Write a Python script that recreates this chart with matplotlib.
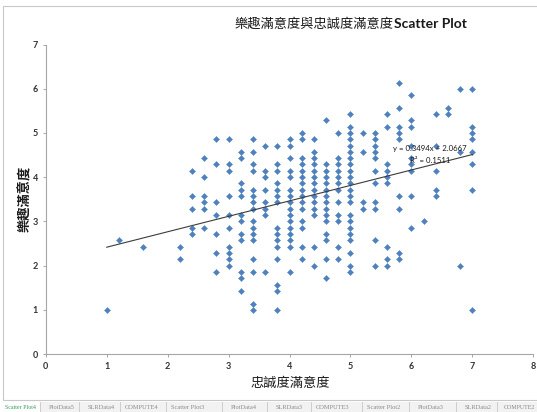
import matplotlib
matplotlib.use("Agg")
import matplotlib.pyplot as plt
from matplotlib.patches import Rectangle
import numpy as np

# Loyalty satisfaction levels (x) and the enjoyment satisfaction scores observed at each level (y)
x_levels = [1.0, 1.2, 1.6, 2.2, 2.4, 2.6, 2.8, 3.0, 3.2, 3.4, 3.6, 3.8, 4.0, 4.2,
            4.4, 4.6, 4.8, 5.0, 5.2, 5.4, 5.6, 5.8, 6.0, 6.2, 6.4, 6.6, 6.8, 7.0]
y_at_level = [
    [1.00],
    [2.57],
    [2.43],
    [2.43, 2.14],
    [4.14, 3.57, 3.29, 2.86, 2.71],
    [4.43, 4.00, 3.57, 3.43, 3.29, 2.86],
    [4.86, 4.29, 3.43, 3.14, 2.71, 2.29, 1.86],
    [4.86, 4.29, 4.14, 3.57, 3.14, 2.86, 2.43, 2.29, 2.14, 2.00],
    [4.57, 4.43, 3.86, 3.71, 3.57, 3.14, 3.00, 2.71, 2.57, 1.86, 1.71, 1.43],
    [4.86, 4.57, 4.29, 4.14, 3.71, 3.57, 3.43, 3.29, 3.00, 2.86, 2.71, 2.57, 2.14, 1.86, 1.14, 1.00],
    [4.71, 4.14, 4.00, 3.71, 3.43, 3.29, 3.14, 1.86],
    [4.71, 4.29, 4.14, 3.86, 3.71, 3.57, 3.43, 2.86, 2.71, 2.57, 2.43, 2.14, 1.57, 1.43, 1.00],
    [4.86, 4.71, 4.43, 4.14, 4.00, 3.71, 3.57, 3.43, 3.29, 3.14, 3.00, 2.86, 2.71, 2.57, 2.43, 1.86],
    [5.00, 4.86, 4.43, 4.29, 4.14, 4.00, 3.86, 3.71, 3.57, 3.43, 3.29, 3.00, 2.86, 2.43, 2.14],
    [4.86, 4.57, 4.43, 4.29, 4.14, 4.00, 3.86, 3.71, 3.57, 3.43, 3.29, 3.14, 2.43, 2.00],
    [5.29, 4.29, 4.14, 4.00, 3.86, 3.71, 3.57, 3.43, 3.29, 3.14, 3.00, 2.71, 2.57, 2.14, 1.71],
    [5.00, 4.43, 4.29, 4.14, 4.00, 3.86, 3.71, 3.43, 3.14, 3.00, 2.43, 2.14],
    [5.43, 5.14, 5.00, 4.86, 4.71, 4.57, 4.43, 4.29, 4.14, 4.00, 3.86, 3.71, 3.57, 3.43,
     3.14, 3.00, 2.86, 2.71, 2.57, 2.29, 2.00, 1.86],
    [5.00, 4.57, 3.43, 3.29],
    [5.00, 4.86, 4.71, 4.57, 4.43, 4.14, 3.86, 3.43, 3.29, 2.57, 2.00],
    [5.43, 5.14, 4.29, 4.14, 4.00, 3.86, 2.43, 2.14, 2.00],
    [6.14, 5.57, 5.14, 5.00, 4.86, 3.57, 3.29, 2.29, 2.14],
    [5.86, 5.29, 5.14, 4.71, 4.43, 4.29, 4.14, 3.57, 2.86],
    [3.00],
    [5.43, 4.71, 4.14, 3.71, 3.57],
    [5.57, 5.43],
    [6.00, 4.57, 2.00],
    [6.00, 5.14, 5.00, 4.86, 4.57, 4.29, 3.71, 1.00],
]

# Linear trendline reported on the chart
slope = 0.3494
intercept = 2.0667
r_squared = 0.1511

x_ticks = [0, 1, 2, 3, 4, 5, 6, 7, 8]
y_ticks = [0, 1, 2, 3, 4, 5, 6, 7]

title_cjk = "樂趣滿意度與忠誠度滿意度"
title_latin = "Scatter Plot"
x_label = "忠誠度滿意度"
y_label = "樂趣滿意度"

sheet_tabs = ["Scatter Plot4", "PlotData5", "SLRData4", "COMPUTE4", "Scatter Plot3",
              "PlotData4", "SLRData3", "COMPUTE3", "Scatter Plot2", "PlotData3",
              "SLRData2", "COMPUTE2"]

loyalty = np.concatenate([[xv] * len(ys) for xv, ys in zip(x_levels, y_at_level)])
enjoyment = np.concatenate([ys for ys in y_at_level])

W, H = 537, 412
fig = plt.figure(figsize=(W / 100, H / 100), dpi=100)
fig.patch.set_facecolor("white")

LATIN_CJK = ["Lato", "Noto Sans CJK TC", "DejaVu Sans"]
CJK = ["Noto Sans CJK TC", "DejaVu Sans"]


def fx(px):
    return px / W


def fy(py):
    return 1 - py / H


# Chart frame and sheet-tab strip
fig.add_artist(Rectangle((fx(3), fy(400)), fx(540), fy(6) - fy(400),
                         transform=fig.transFigure, fill=False,
                         edgecolor="#C8C8C8", lw=0.8))
fig.add_artist(Rectangle((0, 0), 1, fy(402), transform=fig.transFigure,
                         facecolor="#F2F2F2", edgecolor="none"))
fig.add_artist(Rectangle((0, 0), fx(40), fy(402), transform=fig.transFigure,
                         facecolor="white", edgecolor="none"))
tab_centers = [20, 62, 101, 142, 188, 244, 289, 333, 384, 431, 478, 519]
for i, (name, cx) in enumerate(zip(sheet_tabs, tab_centers)):
    fig.text(fx(cx), fy(407.5), name, ha="center", va="center",
             fontsize=4.3 if i in (0, len(sheet_tabs) - 1) else 4.6,
             color="#3A9A5A" if i == 0 else "#8A8A8A", family=["Liberation Serif"])
    if i > 0:
        fig.add_artist(plt.Line2D([fx(cx - 22), fx(cx - 22)], [0, fy(402)],
                                  transform=fig.transFigure, color="#C8C8C8", lw=0.6))

ax = fig.add_axes([fx(45.8), fy(354), fx(533.2) - fx(45.8), fy(44.6) - fy(354)])
ax.set_xlim(x_ticks[0], x_ticks[-1])
ax.set_ylim(y_ticks[0], y_ticks[-1])
ax.set_facecolor("none")

ax.plot(loyalty, enjoyment, linestyle="none", marker="D", markersize=3.1,
        markerfacecolor="#4F81BD", markeredgecolor="#4F81BD", markeredgewidth=0.3,
        zorder=3)

trend_x = np.array([loyalty.min(), loyalty.max()])
ax.plot(trend_x, slope * trend_x + intercept, color="#3C3C3C", lw=0.8, zorder=4)

for side in ("top", "right"):
    ax.spines[side].set_visible(False)
for side in ("left", "bottom"):
    ax.spines[side].set_color("#A6A6A6")
    ax.spines[side].set_linewidth(0.8)

ax.set_xticks(x_ticks)
ax.set_yticks(y_ticks)
ax.tick_params(direction="out", length=2.5, width=0.7, color="#A6A6A6",
               labelsize=6.5, labelcolor="#333333", pad=3)
for lab in ax.get_xticklabels() + ax.get_yticklabels():
    lab.set_family(LATIN_CJK)
    lab.set_fontweight("bold")

# Title: CJK part in medium weight, Latin part in bold, centred together
renderer = fig.canvas.get_renderer()
t1 = fig.text(0, fy(24), title_cjk, ha="left", va="center", fontsize=9.5,
              fontweight="medium", family=CJK, color="#1A1A1A")
t2 = fig.text(0, fy(24), title_latin, ha="left", va="center", fontsize=10,
              fontweight="bold", family=LATIN_CJK, color="#1A1A1A")
w1 = t1.get_window_extent(renderer).width
w2 = t2.get_window_extent(renderer).width
left_px = 351 - (w1 + w2) / 2
t1.set_x(fx(left_px))
t2.set_x(fx(left_px + w1))

fig.text(fx(290), fy(383), x_label, ha="center", va="center", fontsize=9.5,
         family=CJK, fontweight="medium", color="#1A1A1A")
fig.text(fx(25), fy(199), y_label, ha="center", va="center", rotation=90,
         fontsize=9.5, family=CJK, fontweight="bold", color="#1A1A1A")

fig.text(fx(430), fy(149), f"y = {slope:.4f}x + {intercept:.4f}", ha="center",
         va="center", fontsize=5.6, family=LATIN_CJK, color="#1A1A1A")
fig.text(fx(430), fy(160), f"R² = {r_squared:.4f}", ha="center", va="center",
         fontsize=5.6, family=LATIN_CJK, color="#1A1A1A")

fig.savefig("out.png", dpi=100)
